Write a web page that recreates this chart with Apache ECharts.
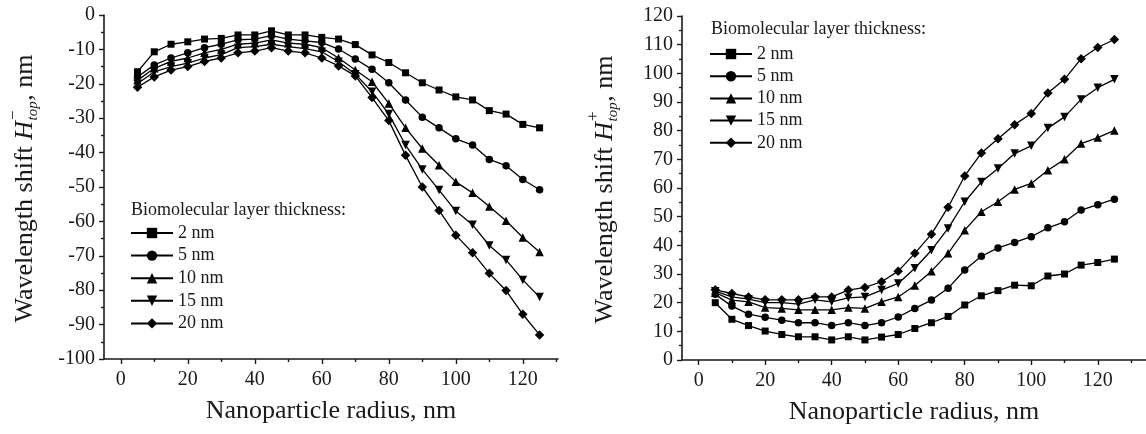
<!DOCTYPE html>
<html>
<head>
<meta charset="utf-8">
<script src="https://cdn.jsdelivr.net/npm/echarts@6/dist/echarts.min.js"></script>
<style>
  html, body { margin: 0; padding: 0; background: #fff; }
  #chart { width: 1146px; height: 434px; }
</style>
</head>
<body>
<div id="chart"></div>
<script>
var radius = [5, 10, 15, 20, 25, 30, 35, 40, 45, 50, 55, 60, 65, 70, 75, 80, 85, 90, 95, 100, 105, 110, 115, 120, 125];
var thickness = ['2 nm', '5 nm', '10 nm', '15 nm', '20 nm'];

// left panel, H_top minus
var minus2 = [-16.5, -10.7, -8.5, -7.8, -7, -6.8, -5.8, -5.8, -4.6, -5.8, -5.8, -6.5, -7, -8.6, -11.6, -13.8, -16.8, -19.7, -21.8, -23.8, -24.7, -27.8, -28.8, -31.8, -32.8];
var minus5 = [-18, -14.5, -12.5, -11, -9.5, -8.5, -7.2, -7, -6, -7, -7.5, -8, -9.9, -12.8, -15.8, -19.7, -24.7, -29.7, -32.8, -36, -37.8, -42, -43.8, -47.8, -50.8];
var minus10 = [-19, -15.5, -13.5, -12.5, -11, -10, -8.5, -8.2, -7.2, -8.2, -8.5, -9.5, -12.5, -16, -19.4, -25.7, -32.8, -38.8, -43.7, -48.5, -51.7, -55.7, -59.8, -64.7, -68.9];
var minus15 = [-20, -16.5, -15, -14, -12.5, -11.5, -9.5, -9.2, -8.5, -9.2, -9.8, -10.7, -13.6, -17.2, -22.3, -28.8, -37.8, -44.9, -50.9, -57, -61, -67, -71.2, -77, -82];
var minus20 = [-21, -18, -16, -15, -13.5, -12.5, -11, -10.5, -9.5, -10.5, -11, -12.5, -14.8, -17.7, -24, -30.7, -40.8, -50, -56.8, -64, -69.1, -75.1, -80.1, -87, -93];

// right panel, H_top plus
var plus2 = [20, 14.2, 12, 10.1, 8.9, 8.1, 8.1, 7, 8.1, 7, 8, 8.9, 11, 13, 15.2, 19.2, 22.4, 24.2, 26.1, 25.9, 29.3, 30, 33.1, 34, 35.2];
var plus5 = [22.9, 18.8, 16, 14.9, 13.9, 13, 13, 12, 13, 12, 13, 15, 18, 20.9, 25, 31.4, 36.2, 39.1, 41, 43, 46.1, 48.2, 52.3, 54.2, 56.1];
var plus10 = [23.5, 20.9, 20.3, 18.3, 18, 17.5, 17.5, 17.5, 18.3, 18, 20.3, 22, 26, 31, 37.2, 45.3, 51.7, 55.2, 59.5, 61.6, 66.2, 70, 75.5, 77.6, 80.1];
var plus15 = [24, 22, 21.2, 20, 20, 19.5, 21, 20.3, 21.7, 22, 24.4, 26.7, 32, 38.3, 45.9, 55.2, 62.1, 66.8, 72, 74.7, 80.9, 84.8, 90.9, 95, 97.9];
var plus20 = [24.5, 23.2, 22, 21, 21, 21, 22, 22, 24.4, 25.3, 27.3, 31, 37.2, 43.9, 53.3, 64.2, 72.2, 77.2, 82.1, 86, 93.1, 97.9, 105.1, 109, 111.8];

var xMajor = [0, 20, 40, 60, 80, 100, 120];
var xMinor = [10, 30, 50, 70, 90, 110, 130];

var symbols = ['rect', 'circle', 'triangle', 'path://M0,0 L10,0 L5,9 Z', 'diamond'];
var symbolSizes = [7, 7.5, 8.5, 8.5, 9.5];

var fam = '"Liberation Serif", "Times New Roman", serif';
var ink = '#1a1a1a';

function pair(xs, ys) {
  return xs.map(function (x, i) { return [x, ys[i]]; });
}

function mainX(grid, max) {
  return {
    type: 'value', gridIndex: grid, min: -5, max: max, position: 'bottom',
    name: 'Nanoparticle radius, nm', nameLocation: 'middle', nameGap: 39,
    nameTextStyle: { fontFamily: fam, fontSize: 26, color: ink },
    axisLine: { show: true, onZero: false, lineStyle: { color: ink, width: 1.6 } },
    axisTick: { show: true, length: 5, customValues: xMajor, lineStyle: { color: ink, width: 1.4 } },
    axisLabel: { customValues: xMajor, margin: 11, fontFamily: fam, fontSize: 20, color: ink },
    splitLine: { show: false }
  };
}

function minorX(grid, max) {
  return {
    type: 'value', gridIndex: grid, min: -5, max: max, position: 'bottom', offset: 0,
    axisLine: { show: false, onZero: false },
    axisTick: { show: true, length: 3, customValues: xMinor, lineStyle: { color: ink, width: 1.4 } },
    axisLabel: { show: false },
    splitLine: { show: false }
  };
}

function mainY(grid, min, max) {
  return {
    type: 'value', gridIndex: grid, min: min, max: max, interval: 10,
    axisLine: { show: true, onZero: false, lineStyle: { color: ink, width: 1.6 } },
    axisTick: { show: true, length: 5, lineStyle: { color: ink, width: 1.4 } },
    minorTick: { show: true, splitNumber: 2, length: 3, lineStyle: { color: ink, width: 1.4 } },
    axisLabel: { margin: 9, fontFamily: fam, fontSize: 20, color: ink },
    splitLine: { show: false }
  };
}

// rotated y title with italic H, subscript "top" and a stacked superscript sign
var measure = document.createElement('canvas').getContext('2d');
function textWidth(font, s) {
  measure.font = font;
  return measure.measureText(s).width;
}

function yTitle(cx, cy, sign) {
  var fMain = '26px ' + fam;
  var fItal = 'italic 26px ' + fam;
  var fSub = 'italic 15px ' + fam;
  var fSup = '17px ' + fam;
  var w1 = textWidth(fMain, 'Wavelength shift ');
  var w2 = textWidth(fItal, 'H');
  var w3 = Math.max(textWidth(fSub, 'top'), textWidth(fSup, sign));
  var w4 = textWidth(fMain, ', nm');
  var x0 = -(w1 + w2 + w3 + w4) / 2;
  function t(x, y, s, font) {
    return { type: 'text', x: x, y: y, style: { text: s, font: font, fill: ink, align: 'left', verticalAlign: 'middle' } };
  }
  return {
    type: 'group', x: cx, y: cy, rotation: Math.PI / 2, silent: true,
    children: [
      t(x0, 0, 'Wavelength shift ', fMain),
      t(x0 + w1, 0, 'H', fItal),
      t(x0 + w1 + w2 + 0.5, 8, 'top', fSub),
      t(x0 + w1 + w2 + 1, -11, sign, fSup),
      t(x0 + w1 + w2 + w3 + 1, 0, ', nm', fMain)
    ]
  };
}

function makeSeries(values, xIdx, yIdx) {
  return values.map(function (ys, i) {
    return {
      name: thickness[i], type: 'line',
      xAxisIndex: xIdx, yAxisIndex: yIdx,
      data: pair(radius, ys),
      symbol: symbols[i], symbolSize: symbolSizes[i],
      showAllSymbol: true,
      lineStyle: { color: '#000', width: 1.3 },
      itemStyle: { color: '#000' },
      emphasis: { disabled: true }
    };
  });
}

var chart = echarts.init(document.getElementById('chart'), null, { renderer: 'canvas' });

var legendText = { fontFamily: fam, fontSize: 18, color: ink };
var headText = { fontFamily: fam, fontSize: 18, fontWeight: 'normal', color: ink };

var option = {
  animation: false,
  backgroundColor: '#fff',
  title: [
    { text: 'Biomolecular layer thickness:', left: 131, top: 201, padding: 0, textStyle: headText },
    { text: 'Biomolecular layer thickness:', left: 711, top: 20, padding: 0, textStyle: headText }
  ],
  legend: [
    { data: thickness, orient: 'vertical', left: 130, top: 224, padding: 0, itemWidth: 42, itemHeight: 13, itemGap: 4.6, textStyle: legendText, selectedMode: false },
    { data: thickness, orient: 'vertical', left: 709, top: 45, padding: 0, itemWidth: 42, itemHeight: 13, itemGap: 4.2, textStyle: legendText, selectedMode: false }
  ],
  grid: [
    { left: 104, right: 588, top: 15, bottom: 75 },
    { left: 682, right: 0, top: 16, bottom: 74 }
  ],
  xAxis: [mainX(0, 130.5), minorX(0, 130.5), mainX(1, 134.5), minorX(1, 134.5)],
  yAxis: [mainY(0, -100, 0), mainY(1, 0, 120)],
  graphic: [yTitle(25, 189, '\u2212'), yTitle(605, 190, '+')],
  series: makeSeries([minus2, minus5, minus10, minus15, minus20], 0, 0)
    .concat(makeSeries([plus2, plus5, plus10, plus15, plus20], 2, 1))
};

chart.setOption(option);
</script>
</body>
</html>
